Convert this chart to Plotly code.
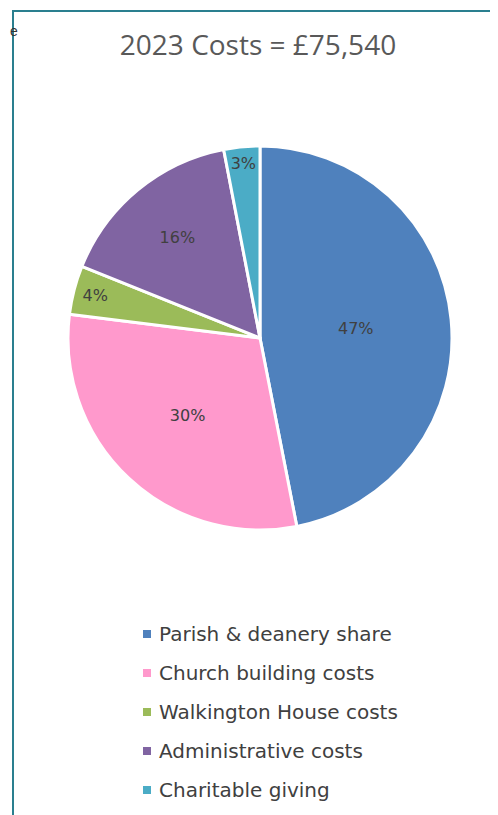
import plotly.graph_objects as go

# 2023 costs, in pounds (total £75,540)
labels = ["Parish & deanery share", "Church building costs", "Walkington House costs",
          "Administrative costs", "Charitable giving"]
costs = [35450, 22700, 3100, 12000, 2290]
colors = ["#4F81BD", "#FF99CC", "#9BBB59", "#8064A2", "#4BACC6"]
title = "2023 Costs = £75,540"

# the page body has an 8px margin, so the figure is shrunk and shifted by it
OFF = 8
W, H = 498 - OFF, 815 - OFF


def px(x):
    return (x - OFF) / W


def py(y):
    return 1 - (y - OFF) / H


cx, cy, r = 260, 338, 192  # pie centre / radius in page pixels

fig = go.Figure()
fig.add_trace(go.Pie(
    labels=labels, values=costs, sort=False, direction="clockwise", rotation=0,
    marker=dict(colors=colors, line=dict(color="white", width=3)),
    textinfo="percent", texttemplate="%{percent:.0%}",
    textposition="inside", insidetextorientation="horizontal",
    textfont=dict(family="DejaVu Sans", size=16, color="#404040"),
    showlegend=False, hoverinfo="label+value+percent",
    domain=dict(x=[px(cx - r), px(cx + r)], y=[py(cy + r), py(cy - r)]),
))

# legend drawn by hand so the row spacing matches
y0, gap = 634, 39
for i, (lab, col) in enumerate(zip(labels, colors)):
    yy = y0 + i * gap
    fig.add_shape(type="rect", xref="paper", yref="paper",
                  x0=px(143), x1=px(151), y0=py(yy + 4), y1=py(yy - 4),
                  fillcolor=col, line_width=0)
    fig.add_annotation(text=lab, x=px(157), y=py(yy), xref="paper", yref="paper",
                       xanchor="left", yanchor="middle", showarrow=False,
                       font=dict(family="DejaVu Sans", size=20, color="#404040"))

# frame around the chart area (runs off the right and bottom)
fig.add_shape(type="rect", xref="paper", yref="paper",
              x0=px(13), x1=1.2, y0=-0.2, y1=py(11),
              line=dict(color="#2A7F8F", width=2), fillcolor="rgba(0,0,0,0)")
# cut-off letter at the left edge
fig.add_annotation(text="e", x=0, y=py(31), xref="paper", yref="paper",
                   xanchor="left", yanchor="middle", showarrow=False,
                   font=dict(family="Liberation Sans", size=14, color="#333333"))

fig.update_layout(
    width=W, height=H, margin=dict(l=0, r=0, t=0, b=0),
    paper_bgcolor="white", plot_bgcolor="white",
    title=dict(text=title, x=px(258), xanchor="center", y=py(45), yanchor="middle",
               font=dict(family="Open Sans", size=28, color="#595959")),
)

fig.write_html("out.html")
